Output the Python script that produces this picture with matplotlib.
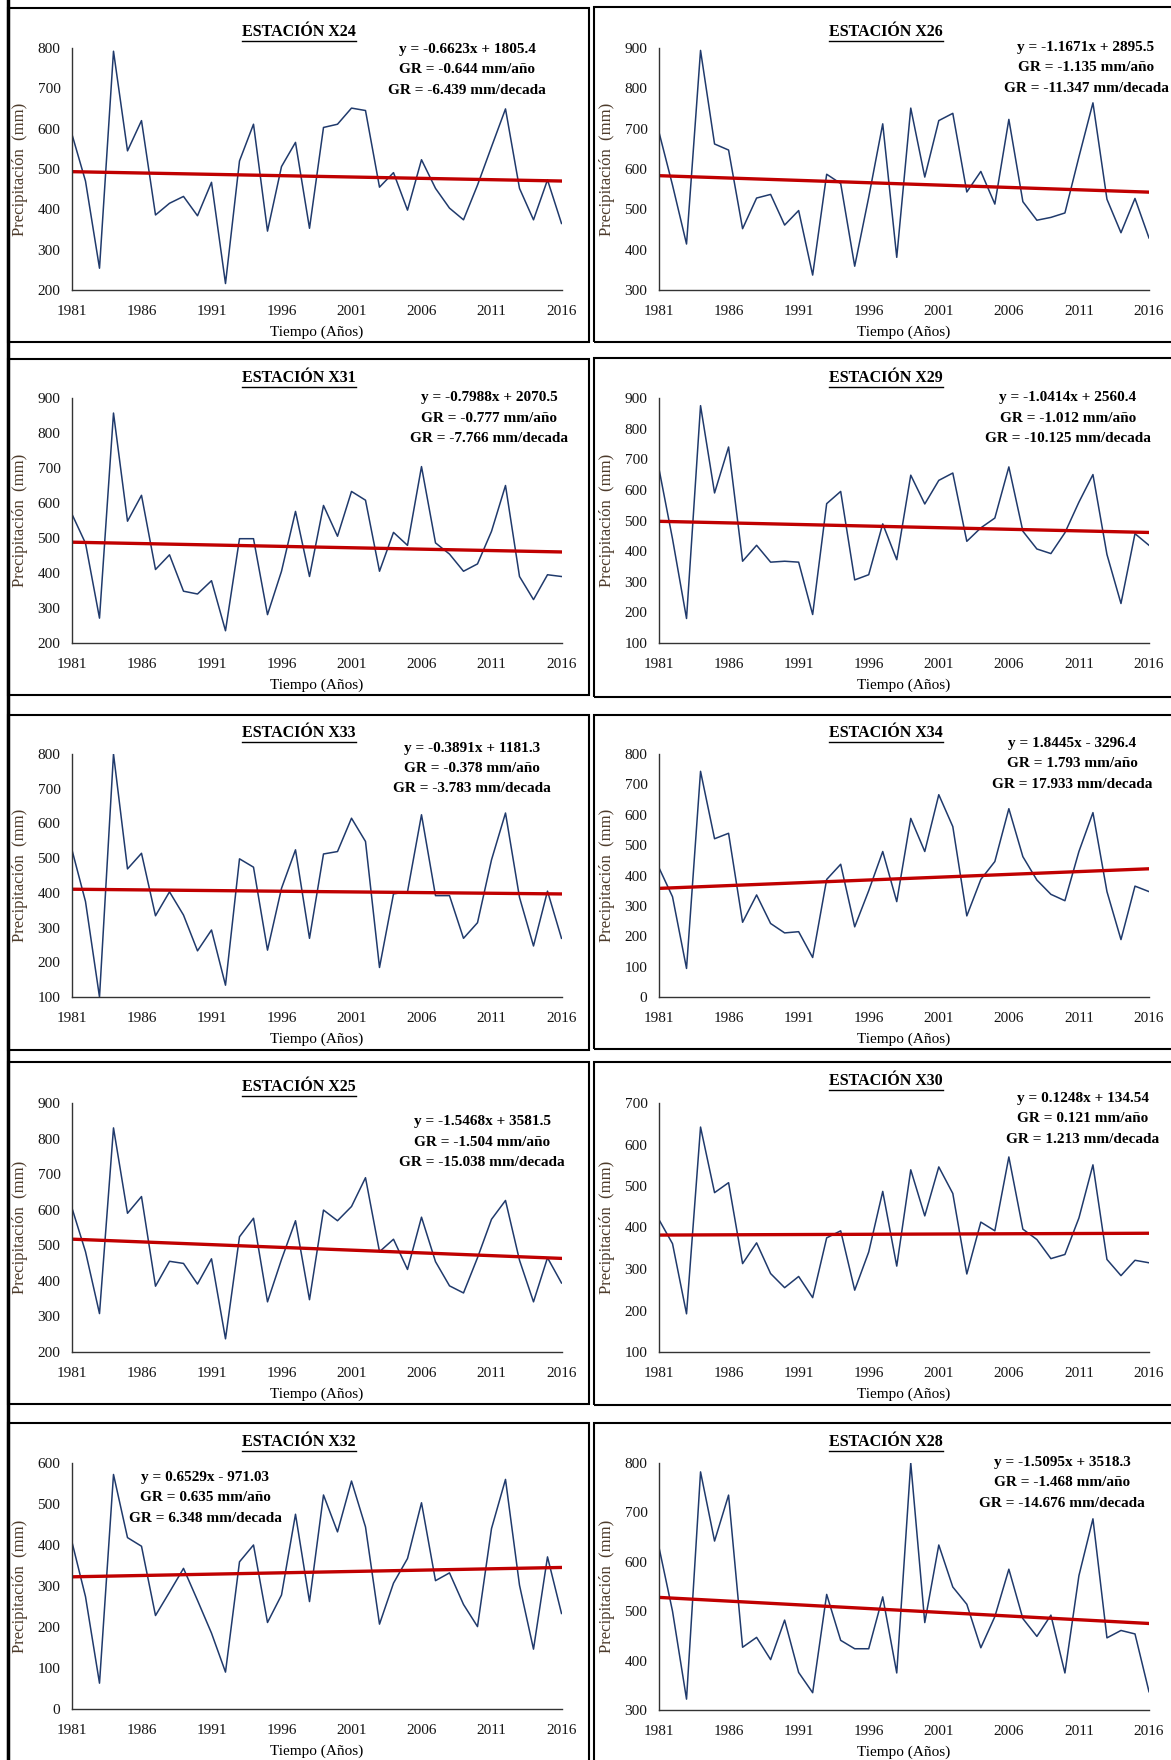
# Precipitación anual por estación con recta de tendencia

import matplotlib.pyplot as plt
from matplotlib.patches import Rectangle
from matplotlib.lines import Line2D
import numpy as np

plt.rcParams['font.family'] = ['Liberation Serif', 'DejaVu Serif']

years = list(range(1981, 2017))
xticks = list(range(1981, 2017, 5))

# datos (mm)
x24 = [590, 470, 254, 792, 545, 620, 386, 415, 432, 384, 467, 216, 520, 611, 346, 506, 566, 353,
       603, 611, 651, 645, 455, 491, 398, 523, 452, 403, 374, 460, 555, 649, 452, 374, 473, 365]
x26 = [696, 560, 414, 894, 662, 647, 452, 528, 537, 461, 497, 337, 587, 564, 359, 530, 712, 381,
       751, 580, 720, 738, 543, 594, 513, 723, 519, 473, 480, 491, 630, 764, 525, 442, 527, 429]
x31 = [571, 485, 271, 857, 548, 622, 410, 452, 348, 340, 378, 235, 498, 498, 281, 405, 576, 390,
       593, 505, 633, 608, 405, 516, 479, 704, 486, 454, 405, 426, 519, 650, 390, 324, 395, 390]
x29 = [677, 440, 180, 875, 590, 740, 367, 419, 364, 367, 364, 193, 555, 595, 306, 323, 489, 372,
       648, 554, 631, 655, 432, 476, 508, 675, 465, 407, 392, 460, 560, 650, 389, 229, 457, 419]
x33 = [529, 375, 100, 800, 469, 514, 334, 403, 336, 233, 293, 134, 498, 474, 235, 413, 524, 269,
       512, 519, 615, 548, 185, 397, 403, 625, 392, 392, 269, 314, 495, 630, 387, 247, 405, 269]
x34 = [429, 330, 94, 743, 521, 539, 246, 336, 242, 211, 215, 130, 387, 437, 231, 350, 479, 314,
       588, 479, 666, 561, 267, 387, 446, 620, 462, 385, 338, 317, 479, 607, 347, 189, 365, 347]
x25 = [609, 482, 308, 830, 590, 637, 385, 455, 449, 391, 462, 237, 524, 576, 341, 460, 569, 347,
       599, 569, 609, 690, 482, 517, 432, 579, 454, 386, 366, 465, 573, 626, 458, 341, 465, 394]
x30 = [421, 361, 192, 642, 484, 508, 313, 363, 289, 255, 282, 231, 375, 392, 249, 341, 487, 307,
       539, 428, 546, 482, 288, 413, 392, 570, 396, 371, 325, 335, 423, 551, 323, 284, 321, 315]
x32 = [412, 274, 63, 572, 418, 397, 228, 285, 343, 265, 185, 90, 359, 400, 211, 278, 475, 262,
       522, 432, 556, 444, 207, 307, 367, 503, 313, 332, 255, 201, 440, 560, 302, 146, 371, 233]
x28 = [634, 500, 322, 782, 642, 735, 427, 447, 402, 482, 376, 335, 534, 441, 424, 424, 529, 375,
       800, 477, 634, 549, 514, 426, 489, 585, 485, 449, 492, 375, 572, 687, 446, 461, 454, 337]

# tendencia: pendiente, intercepto
trend = {'X24': (-0.6623, 1805.4), 'X26': (-1.1671, 2895.5), 'X31': (-0.7988, 2070.5),
         'X29': (-1.0414, 2560.4), 'X33': (-0.3891, 1181.3), 'X34': (1.8445, -3296.4),
         'X25': (-1.5468, 3581.5), 'X30': (0.1248, 134.54), 'X32': (0.6529, -971.03),
         'X28': (-1.5095, 3518.3)}

eq_text = {'X24': ['y = -0.6623x + 1805.4', 'GR = -0.644 mm/año', 'GR = -6.439 mm/decada'],
           'X26': ['y = -1.1671x + 2895.5', 'GR = -1.135 mm/año', 'GR = -11.347 mm/decada'],
           'X31': ['y = -0.7988x + 2070.5', 'GR = -0.777 mm/año', 'GR = -7.766 mm/decada'],
           'X29': ['y = -1.0414x + 2560.4', 'GR = -1.012 mm/año', 'GR = -10.125 mm/decada'],
           'X33': ['y = -0.3891x + 1181.3', 'GR = -0.378 mm/año', 'GR = -3.783 mm/decada'],
           'X34': ['y = 1.8445x - 3296.4', 'GR = 1.793 mm/año', 'GR = 17.933 mm/decada'],
           'X25': ['y = -1.5468x + 3581.5', 'GR = -1.504 mm/año', 'GR = -15.038 mm/decada'],
           'X30': ['y = 0.1248x + 134.54', 'GR = 0.121 mm/año', 'GR = 1.213 mm/decada'],
           'X32': ['y = 0.6529x - 971.03', 'GR = 0.635 mm/año', 'GR = 6.348 mm/decada'],
           'X28': ['y = -1.5095x + 3518.3', 'GR = -1.468 mm/año', 'GR = -14.676 mm/decada']}

yrange = {'X24': (200, 800), 'X26': (300, 900), 'X31': (200, 900), 'X29': (100, 900),
          'X33': (100, 800), 'X34': (0, 800), 'X25': (200, 900), 'X30': (100, 700),
          'X32': (0, 600), 'X28': (300, 800)}

series = {'X24': x24, 'X26': x26, 'X31': x31, 'X29': x29, 'X33': x33,
          'X34': x34, 'X25': x25, 'X30': x30, 'X32': x32, 'X28': x28}

# ---- disposicion en pixeles (origen arriba-izquierda) ----
W, H = 1171, 1760
cols = [(71.5, 561.5), (658.5, 1149)]
# estacion, columna, eje arriba, eje abajo, titulo y, ecuacion x, ecuacion y (1a linea)
layout = [('X24', 0, 48, 290, 32, 467, 49),
          ('X26', 1, 48, 290, 32, 1086, 47),
          ('X31', 0, 398, 643, 378, 489, 398),
          ('X29', 1, 398, 643, 378, 1068, 398),
          ('X33', 0, 754, 997, 733, 472, 748),
          ('X34', 1, 754, 997, 733, 1072, 743),
          ('X25', 0, 1103, 1352, 1087, 482, 1122),
          ('X30', 1, 1103, 1352, 1081, 1083, 1098),
          ('X32', 0, 1463, 1709, 1442, 205, 1477),
          ('X28', 1, 1463, 1710, 1442, 1062, 1462)]
frames = [(8, 8, 589, 342), (594, 7, 1185, 342),
          (8, 359, 589, 695), (594, 358, 1185, 697),
          (8, 715, 589, 1050), (594, 715, 1185, 1049),
          (8, 1062, 589, 1404), (594, 1062, 1185, 1405),
          (8, 1423, 589, 1770), (594, 1423, 1185, 1770)]
title_x = [299, 886]


def fx(x):
    return x / W


def fy(y):
    return 1 - y / H


fig = plt.figure(figsize=(W / 100, H / 100), dpi=100)

for (x0, y0, x1, y1) in frames:
    fig.add_artist(Rectangle((fx(x0), fy(y1)), (x1 - x0) / W, (y1 - y0) / H,
                             transform=fig.transFigure, fill=False, edgecolor='black', lw=1.5))
fig.add_artist(Line2D([fx(8), fx(8)], [0, 1], transform=fig.transFigure, color='black', lw=2.5))

titles = []
for name, c, top, bot, ty, ex, ey in layout:
    left, right = cols[c]
    ax = fig.add_axes([fx(left), fy(bot), (right - left) / W, (bot - top) / H])
    vals = series[name]
    ax.plot(years, vals, color='#203a6c', lw=1.1)
    m, b = trend[name]
    xs = np.array([1981, 2016])
    ax.plot(xs, m * xs + b, color='#c00000', lw=2.4)
    y0, y1 = yrange[name]
    ax.set_xlim(1981, 2016)
    ax.set_ylim(y0, y1)
    ax.set_xticks(xticks)
    ax.set_yticks(np.arange(y0, y1 + 1, 100))
    ax.tick_params(length=0, labelsize=11, labelcolor='#151515')
    ax.tick_params(axis='x', pad=11)
    ax.tick_params(axis='y', pad=8)
    ax.spines['top'].set_visible(False)
    ax.spines['right'].set_visible(False)
    for s in ['left', 'bottom']:
        ax.spines[s].set_color('#333333')
        ax.spines[s].set_linewidth(1.0)
    ax.patch.set_alpha(0)

    t = fig.text(fx(title_x[c]), fy(ty), 'ESTACIÓN ' + name, ha='center', va='center',
                 fontsize=11.5, fontweight='bold')
    titles.append((t, ty))
    for i, line in enumerate(eq_text[name]):
        fig.text(fx(ex), fy(ey + i * 20.5), line, ha='center', va='center',
                 fontsize=11, fontweight='bold')
    fig.text(fx((left + right) / 2), fy(bot + 42), 'Tiempo (Años)', ha='center', va='center',
             fontsize=11)
    fig.text(fx(left - 51), fy((top + bot) / 2), 'Precipitación  (mm)', ha='center', va='center',
             rotation=90, fontsize=12, color='#4d3b2b')

# subrayado de los titulos
fig.canvas.draw()
r = fig.canvas.get_renderer()
for t, ty in titles:
    bb = t.get_window_extent(r)
    fig.add_artist(Line2D([bb.x0 / W, bb.x1 / W], [fy(ty + 9), fy(ty + 9)],
                          transform=fig.transFigure, color='black', lw=1.0))

fig.savefig('out.png', dpi=100)
